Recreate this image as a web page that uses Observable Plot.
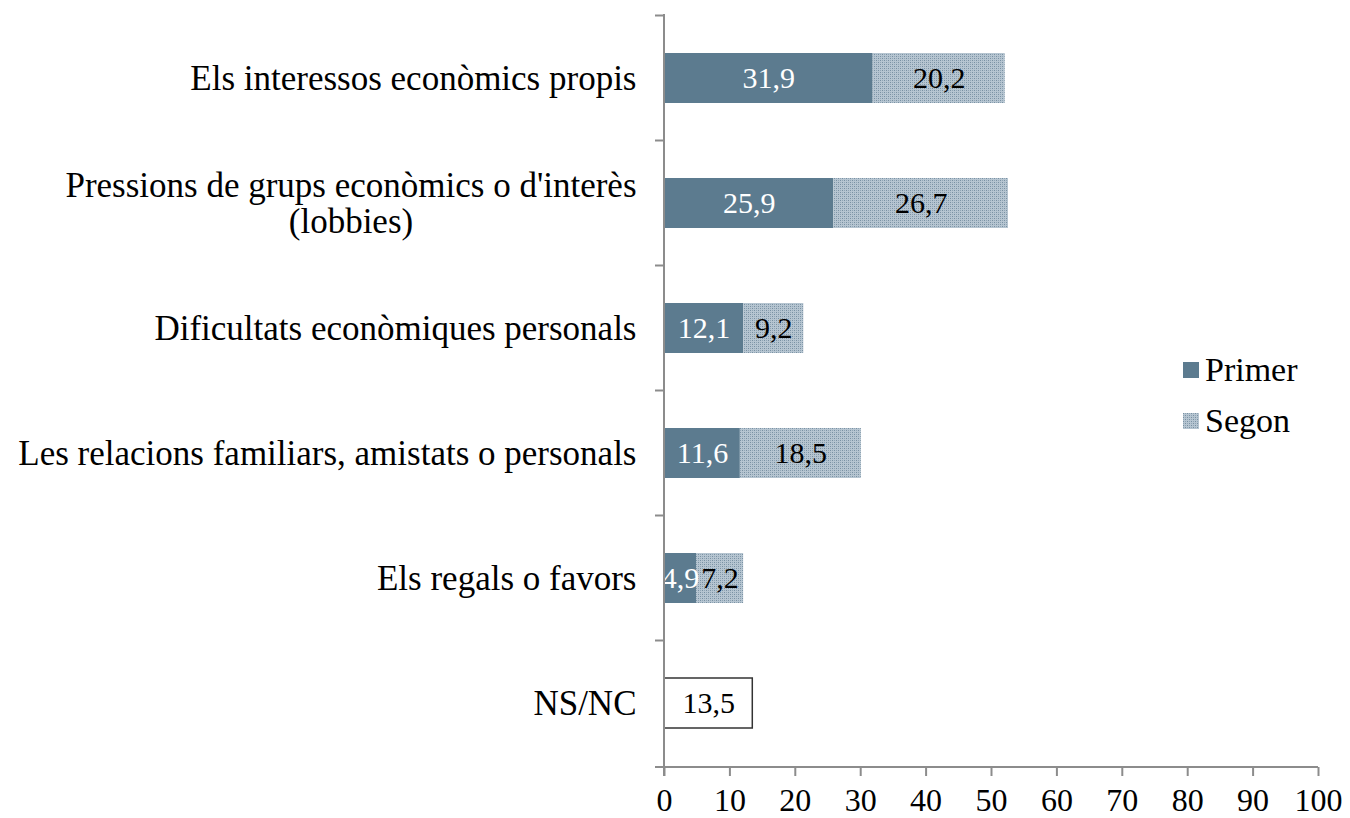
<!DOCTYPE html>
<html>
<head>
<meta charset="utf-8">
<script src="https://cdn.jsdelivr.net/npm/d3@7"></script>
<script src="https://cdn.jsdelivr.net/npm/@observablehq/plot@0.6"></script>
<style>
  html, body { margin: 0; padding: 0; background: white; }
  #wrap { position: relative; width: 1350px; height: 818px; }
  #legend { position: absolute; left: 1183px; top: 344px; font-family: "Liberation Serif", serif; font-size: 34px; color: black; }
  .li { display: flex; align-items: center; height: 51px; }
  .li svg { margin-right: 6px; }
</style>
</head>
<body>
<div id="wrap"><div id="legend"></div></div>
<script>
const categories = [
  "Els interessos econòmics propis",
  "Pressions de grups econòmics o d'interès\n(lobbies)",
  "Dificultats econòmiques personals",
  "Les relacions familiars, amistats o personals",
  "Els regals o favors",
  "NS/NC"
];
const primer = [31.9, 25.9, 12.1, 11.6, 4.9, null];
const segon  = [20.2, 26.7, 9.2, 18.5, 7.2, null];
const nsnc   = [null, null, null, null, null, 13.5];
const seriesNames = ["Primer", "Segon", "NS/NC"];
const legendNames = ["Primer", "Segon"];
const xTicks = [0, 10, 20, 30, 40, 50, 60, 70, 80, 90, 100];

const primerColor = "#5c7b8f";
const patternDefs = `
  <pattern id="segonPattern" width="4" height="4" patternUnits="userSpaceOnUse">
    <rect width="4" height="4" fill="#b6c5d1"/>
    <rect x="0" y="0" width="1" height="1" fill="#7890a2"/>
    <rect x="2" y="2" width="1" height="1" fill="#7890a2"/>
    <rect x="2" y="0" width="1" height="1" fill="#90a5b5"/>
    <rect x="0" y="2" width="1" height="1" fill="#90a5b5"/>
  </pattern>`;

const rows = [];
categories.forEach((c, i) => {
  [primer, segon, nsnc].forEach((arr, k) => {
    if (arr[i] != null) rows.push({cat: c, series: seriesNames[k], value: arr[i]});
  });
});
const fmt = v => v.toFixed(1).replace(".", ",");

const plot = Plot.plot({
  width: 1350,
  height: 818,
  marginLeft: 664,
  marginRight: 32,
  marginTop: 14,
  marginBottom: 51,
  style: {fontFamily: "Liberation Serif", fontSize: "30px", color: "black", background: "white"},
  x: {domain: [0, 100], ticks: xTicks, label: null},
  y: {domain: categories, paddingInner: 0.6, paddingOuter: 0.3, label: null},
  color: {type: "ordinal", domain: seriesNames, range: [primerColor, "url(#segonPattern)", "white"]},
  marks: [
    Plot.barX(rows, {
      x: "value", y: "cat", fill: "series",
      stroke: d => d.series === "NS/NC" ? "#333333" : "none",
      strokeWidth: 1.5,
      order: seriesNames
    }),
    Plot.text(rows, Plot.stackX({
      x: "value", y: "cat", order: seriesNames,
      text: d => fmt(d.value),
      fill: d => d.series === "Primer" ? "white" : "black",
      fontSize: 30
    })),
    Plot.axisX({ticks: xTicks, tickSize: 9, tickPadding: 12, fontSize: 32, stroke: "#8c8c8c", strokeWidth: 2, label: null}),
    Plot.axisY({tickSize: 0, tickPadding: 28, fontSize: 35, lineHeight: 1.02, label: null})
  ]
});

d3.select(plot).insert("defs", ":first-child").html(patternDefs);
document.getElementById("wrap").insertBefore(plot, document.getElementById("legend"));

// axis lines and category boundary ticks, from the library's scales
const xs = plot.scale("x"), ys = plot.scale("y");
const x0 = xs.apply(0), x1 = xs.apply(100);
const yTop = ys.range[0], yBot = ys.range[1];
const g = d3.select(plot).append("g").attr("stroke", "#8c8c8c").attr("stroke-width", 2);
g.append("line").attr("x1", x0).attr("x2", x0).attr("y1", yTop).attr("y2", yBot + 9);
g.append("line").attr("x1", x0 - 9).attr("x2", x1).attr("y1", yBot).attr("y2", yBot);
const off = ys.step * ys.paddingOuter;
categories.forEach(c => {
  const yb = ys.apply(c) - off;
  g.append("line").attr("x1", x0 - 9).attr("x2", x0).attr("y1", yb).attr("y2", yb);
});
g.append("line").attr("x1", x0 - 9).attr("x2", x0).attr("y1", yBot).attr("y2", yBot);

// center the two-line label
d3.select(plot).selectAll("text").each(function() {
  if (this.textContent.includes("lobbies")) {
    const bb = this.getBBox();
    const cx = bb.x + bb.width / 2;
    this.setAttribute("text-anchor", "middle");
    const t = this.getAttribute("transform") || "";
    this.setAttribute("transform", t + ` translate(${cx},0)`);
  }
});

// legend
const legend = d3.select("#legend");
legendNames.forEach(n => {
  const item = legend.append("div").attr("class", "li");
  const s = item.append("svg").attr("width", 16).attr("height", 16);
  s.append("defs").html(n === "Segon" ? patternDefs.replace("segonPattern", "segonPatternL") : "");
  s.append("rect").attr("width", 16).attr("height", 16)
    .attr("fill", n === "Primer" ? primerColor : "url(#segonPatternL)");
  item.append("span").text(n);
});
</script>
</body>
</html>
